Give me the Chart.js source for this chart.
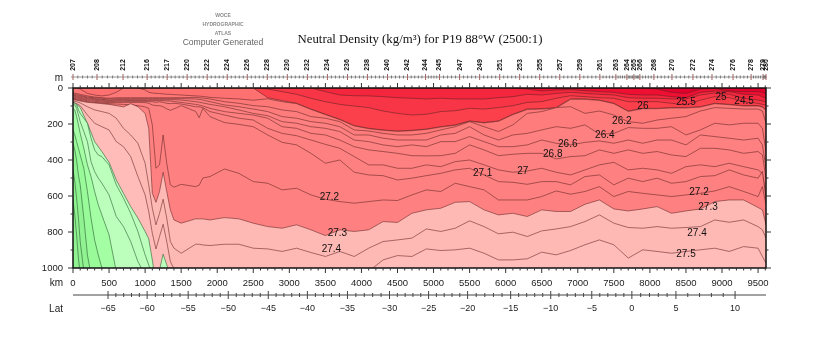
<!DOCTYPE html>
<html>
<head>
<meta charset="utf-8">
<title>Neutral Density P19</title>
<script src="https://cdn.jsdelivr.net/npm/chart.js@4"></script>
<style>
  html, body { margin: 0; padding: 0; background: #fff; }
  canvas { display: block; }
</style>
</head>
<body>
<canvas id="section" width="820" height="350"></canvas>
<script>
// section distance (km) shared by the density surfaces
const kmGrid = [0,50,100,200,300,400,500,600,700,800,900,1000,1050,1100,1150,1200,1250,1300,1350,1400,1500,
  1700,1750,1800,1900,2100,2300,2500,2700,2900,
  3100,3300,3500,3700,3900,4100,4300,4500,4700,4900,5100,5300,5500,5700,5900,6100,6300,
  6500,6700,6900,7100,7300,7500,7700,7900,8100,8300,8500,8700,8900,9100,9300,9500,9560,9610];

// finer grid for the green surfaces at the southern end
const greenKm = [0,25,50,75,100,150,200,250,300,350,400,500,600,700,800,900,1000,1100];

// depth (m) of each neutral density surface
const d245 = [0,0,0,0,0,0,0,0,0,0,0,0,0,0,0,0,0,0,0,0,0, 0,0,0,0,0,0,0,0,0, 0,0,0,0,0,0,0,0,0,0,0,0,0,0,0,0,0, 0,0,0,0,0,0,0,0,6,24,30,6,2,17,20,20,24,35];
const d250 = [0,0,0,0,0,0,0,0,0,0,0,0,0,0,0,0,0,0,0,0,0, 0,0,0,0,0,0,0,0,0, 0,0,0,0,0,0,0,0,0,0,0,0,0,0,0,0,6, 17,11,9,15,20,24,35,39,39,48,54,24,17,20,35,39,48,57];
const d255 = [0,0,0,0,0,0,0,0,0,0,0,0,0,0,0,0,0,0,0,0,0, 0,0,0,0,0,0,0,0,0, 0,0,20,39,43,44,48,54,57,61,57,61,61,61,54,48,35, 39,30,24,30,35,39,54,57,57,61,61,39,28,35,57,67,72,76];
const d258 = [0,0,0,0,0,0,0,0,0,0,0,0,0,0,0,0,0,0,0,0,0, 0,0,0,0,0,0,0,6,20, 35,57,76,91,100,109,128,141,150,146,131,126,113,117,109,98,80, 76,57,43,48,54,57,76,76,76,85,94,67,48,54,76,85,91,94];
const d260 = [0,0,0,0,0,0,0,0,0,0,0,0,0,0,0,0,0,0,0,0,0, 0,0,0,0,0,0,0,54,70, 85,117,146,174,209,224,233,239,235,228,215,205,183,192,183,146,117, 115,109,61,61,67,85,128,113,113,109,109,104,85,91,98,98,104,122];
const d261 = [0,0,6,30,39,44,39,24,0,0,0,11,24,28,30,31,33,35,35,37,39, 44,45,47,52,57,61,68,60,76, 87,119,148,176,211,226,235,241,237,230,217,207,185,194,185,148,119, 117,111,63,63,69,87,130,115,115,111,111,106,87,93,100,100,106,124];
const d262 = [28,31,35,44,50,54,57,54,54,54,54,54,54,54,54,54,54,54,54,54,54, 52,54,56,61,76,85,98,104,122, 131,159,168,187,233,239,252,261,261,252,233,215,187,215,242,205,141, 131,109,104,141,128,150,187,196,178,168,159,128,109,113,117,117,128,196];
const d264 = [33,37,41,50,54,57,61,59,59,59,59,59,59,59,59,59,59,59,59,59,59, 61,63,67,76,94,104,117,131,159, 168,187,196,215,261,261,279,289,289,289,261,252,215,261,289,261,252, 233,215,224,205,257,252,220,224,224,215,261,233,196,205,196,196,224,353];
const d266 = [39,43,46,54,59,63,67,65,65,65,65,65,65,65,65,65,65,65,65,65,67, 76,79,83,91,104,122,141,154,187, 196,215,224,242,289,298,316,326,316,326,298,298,270,298,326,326,316, 289,307,316,302,294,307,289,307,289,289,316,261,270,279,289,279,316,446];
const d268 = [44,48,52,59,63,67,70,68,68,70,70,70,70,70,70,70,70,72,72,76,80, 91,95,100,113,131,141,150,168,215, 224,252,261,289,326,344,353,363,376,377,376,363,316,344,376,368,363, 363,394,381,376,344,363,344,363,353,372,381,335,335,344,363,353,372,501];
const d270 = [50,54,57,65,68,72,76,74,74,74,74,74,76,76,80,76,80,85,87,85,89, 104,105,109,131,150,168,178,224,252, 265,289,313,335,381,427,427,446,446,427,437,409,400,427,455,468,461, 446,468,483,455,427,413,455,446,455,474,437,427,437,418,437,455,474,594];
const d271 = [56,59,63,70,74,78,81,80,80,80,80,81,85,94,98,98,104,116,124,116,98, 130,165,113,159,192,202,215,261,302, 316,363,418,400,468,483,487,511,501,487,474,455,446,483,520,524,535, 520,520,538,492,483,538,501,520,501,529,520,492,487,455,483,501,464,612];
const d272 = [61,65,68,76,80,83,87,89,91,94,98,105,113,205,446,427,261,418,538,551,535, 548,540,500,492,450,474,520,529,566, 557,594,618,631,640,631,622,625,594,566,575,529,548,566,622,622,622, 603,572,590,575,548,603,575,585,594,603,594,585,572,548,575,603,548,649];
const d273 = [65,68,72,80,83,87,91,98,105,87,104,141,224,585,635,575,468,575,677,733,751, 727,727,727,733,720,727,751,770,779, 760,788,820,788,797,788,742,747,696,677,668,635,631,677,705,696,714, 677,686,686,646,622,672,683,672,659,696,683,672,631,622,622,664,677,760];
const d274 = [72,76,83,104,122,131,141,168,224,261,307,418,538,668,760,696,618,723,853,890,918, 868,868,872,875,868,868,890,894,908, 890,914,936,908,936,890,853,844,834,783,797,779,738,770,810,801,825, 794,783,770,742,705,751,775,779,770,779,775,770,733,746,733,770,788,834];
const d275 = [80,87,98,150,196,215,233,298,326,381,492,594,686,807,894,825,757,853,964,1005,1093, 1093,1093,1093,1093,1093,1093,1093,1093,1093, 1093,1093,1093,1093,1093,1019,955,931,936,894,903,899,890,918,955,955,949, 912,927,903,871,844,871,945,899,908,918,908,899,890,908,881,890,936,973];
const d276 = [80,91,109,196,298,353,413,511,585,659,723,797,838,955,1093,1010,923,982,1038,1100,1100];
const d277 = [85,85,94,122,141,168,196,279,344,372,381,427,538,612,696,797,927,1038];
const d2775 = [91,94,113,150,187,242,298,409,464,501,529,594,714,770,853,964,1038,1093];
const d278 = [113,122,159,205,252,335,427,492,575,649,705,816,1019,1093];
const d2785 = [233,261,298,335,372,446,575,723,844,927,999,1093];
const d279 = [307,344,400,483,538,723,927,1038];
const d2792 = [455,520,612,723,853,1019];
const d2795 = [622,705,816,945,1038];

// contour labels on the section
const labelText = ["27.2","27.3","27.4","27.1","27","26.8","26.6","26.4","26.2","26","25.5","25","24.5","27.2","27.3","27.4","27.5"];
const labelKm = [3556,3667,3583,5681,6236,6653,6861,7375,7611,7903,8500,8986,9306,8681,8806,8653,8500];
const labelDepth = [605,805,895,472,461,367,311,261,183,100,78,50,72,578,661,806,922];

// station row along the top
const stationKm = [0,333,694,1028,1306,1583,1861,2139,2417,2694,2972,3250,3528,3806,4083,4361,4639,4889,5083,5361,5639,5917,6194,6472,6750,7028,7306,7528,7681,7778,7861,8056,8306,8597,8861,9153,9403,9569,9610];
const stationNames = ["207","208","212","216","217","220","222","224","226","228","230","232","234","236","238","240","242","244","245","247","249","251","253","255","257","259","261","263","264","265","266","268","270","272","274","276","278","279","280"];

// latitude row along the bottom
const latValues = [-65,-60,-55,-50,-45,-40,-35,-30,-25,-20,-15,-10,-5,0,5,10];
const latKm = [486,1028,1597,2153,2708,3250,3806,4389,4931,5472,6069,6625,7194,7750,8361,9181];

const kmTicks = [0,500,1000,1500,2000,2500,3000,3500,4000,4500,5000,5500,6000,6500,7000,7500,8000,8500,9000,9500];
const depthTicks = [0,200,400,600,800,1000];

const sans = '"Liberation Sans", Arial, sans-serif';

// lightest surface first, each one painted over the last
const surfaces = [
  [d245, kmGrid, "#ee0f33"], [d250, kmGrid, "#f3263d"], [d255, kmGrid, "#f83546"], [d258, kmGrid, "#fb3f4b"],
  [d260, kmGrid, "#ff7070"], [d261, kmGrid, "#ff7878"], [d262, kmGrid, "#ff7c7c"], [d264, kmGrid, "#ff8080"],
  [d266, kmGrid, "#ff8080"], [d268, kmGrid, "#ff8080"], [d270, kmGrid, "#ff8080"], [d271, kmGrid, "#ff8080"],
  [d272, kmGrid, "#ff8080"], [d273, kmGrid, "#ffb9b5"], [d274, kmGrid, "#ffb9b5"], [d275, kmGrid, "#ffbcb8"],
  [d276, kmGrid, "#bcffbc"], [d277, greenKm, "#bcffbc"], [d2775, greenKm, "#bcffbc"], [d278, greenKm, "#a4ffa4"],
  [d2785, greenKm, "#98fa98"], [d279, greenKm, "#90f290"], [d2792, greenKm, "#90f290"], [d2795, greenKm, "#90f290"]
];

// chart.js paints dataset 0 last, so densest goes first
const datasets = surfaces.slice().reverse().map(s => {
  const green = s[1] === greenKm || s[0] === d276;
  return {
    data: s[0].map((d, i) => ({ x: s[1][i], y: d })),
    showLine: true,
    pointRadius: 0,
    borderWidth: 0.7,
    borderColor: green ? "rgba(40,95,50,0.85)" : "rgba(95,35,35,0.8)",
    backgroundColor: s[2],
    fill: { value: 1000 }
  };
});

function tickLine(ctx, x1, y1, x2, y2) {
  ctx.beginPath();
  ctx.moveTo(x1, y1);
  ctx.lineTo(x2, y2);
  ctx.stroke();
}

// background under the surfaces
const sectionBack = {
  id: "sectionBack",
  beforeDatasetsDraw(chart) {
    const a = chart.chartArea;
    chart.ctx.fillStyle = "#e3002d";
    chart.ctx.fillRect(a.left, a.top, a.width, a.height);
  }
};

// frame, tick rows, contour labels and the header
const decorations = {
  id: "decorations",
  afterDatasetsDraw(chart) {
    const ctx = chart.ctx, a = chart.chartArea, x = chart.scales.x, y = chart.scales.y;
    ctx.save();

    // contour labels
    ctx.fillStyle = "#111";
    ctx.font = "10px " + sans;
    ctx.textAlign = "center";
    ctx.textBaseline = "middle";
    labelText.forEach((t, i) => ctx.fillText(t, x.getPixelForValue(labelKm[i]), y.getPixelForValue(labelDepth[i])));

    // frame
    ctx.strokeStyle = "#111";
    ctx.lineWidth = 1.5;
    ctx.strokeRect(a.left, a.top, a.width, a.height);

    // km ticks, top and bottom
    ctx.lineWidth = 1;
    ctx.strokeStyle = "#333";
    for (let km = 0; km <= 9600; km += 100) {
      const px = x.getPixelForValue(km), len = km % 500 === 0 ? 5 : 2.5;
      tickLine(ctx, px, a.top, px, a.top - len);
      tickLine(ctx, px, a.bottom, px, a.bottom + len);
    }

    // depth ticks, left and right
    for (let d = 0; d <= 1000; d += 100) {
      const py = y.getPixelForValue(d), len = d % 200 === 0 ? 5 : 2.5;
      tickLine(ctx, a.left, py, a.left - len, py);
      tickLine(ctx, a.right, py, a.right + len, py);
    }

    // station row
    const stationY = 77;
    ctx.strokeStyle = "#999";
    tickLine(ctx, a.left - 2, stationY, a.right + 1, stationY);
    stationKm.forEach((km, i) => {
      const px = x.getPixelForValue(km);
      ctx.strokeStyle = "#a06060";
      tickLine(ctx, px, stationY - 3, px, stationY + 3);
      if (i < stationKm.length - 1) {
        ctx.strokeStyle = "#777";
        const gap = (x.getPixelForValue(stationKm[i + 1]) - px) / 5;
        for (let k = 1; k < 5; k++) tickLine(ctx, px + gap * k, stationY - 1.5, px + gap * k, stationY + 1.5);
      }
      ctx.save();
      ctx.translate(px, 65);
      ctx.rotate(-Math.PI / 2);
      ctx.fillStyle = "#111";
      ctx.font = "bold 7px " + sans;
      ctx.textAlign = "center";
      ctx.textBaseline = "middle";
      ctx.fillText(stationNames[i], 0, 0);
      ctx.restore();
    });

    // latitude row
    const latY = 295;
    ctx.strokeStyle = "#444";
    tickLine(ctx, a.left, latY, a.right, latY);
    ctx.fillStyle = "#222";
    ctx.font = "9px " + sans;
    ctx.textAlign = "center";
    ctx.textBaseline = "middle";
    latValues.forEach((lat, i) => {
      const px = x.getPixelForValue(latKm[i]);
      tickLine(ctx, px, latY - 4, px, latY + 4);
      ctx.fillText(String(lat).replace("-", "\u2212"), px, 309);
      if (i < latValues.length - 1) {
        const gap = (x.getPixelForValue(latKm[i + 1]) - px) / 5;
        for (let k = 1; k < 5; k++) tickLine(ctx, px + gap * k, latY - 2, px + gap * k, latY + 2);
      }
    });

    // row names
    ctx.fillStyle = "#222";
    ctx.font = "10px " + sans;
    ctx.textAlign = "right";
    ctx.fillText("m", 63, 78);
    ctx.fillText("km", 63, 283);
    ctx.fillText("Lat", 63, 309);

    // header
    ctx.textAlign = "center";
    ctx.fillStyle = "#111";
    ctx.font = '12.8px "Liberation Serif", serif';
    ctx.fillText("Neutral Density (kg/m\u00b3) for P19 88\u00b0W (2500:1)", 420, 40);
    ctx.fillStyle = "#8a8a8a";
    ctx.font = "bold 5px " + sans;
    ctx.fillText("WOCE", 223, 16);
    ctx.fillText("HYDROGRAPHIC", 223, 25);
    ctx.fillText("ATLAS", 223, 34);
    ctx.fillStyle = "#666";
    ctx.font = "8.6px " + sans;
    ctx.fillText("Computer Generated", 223, 43);

    ctx.restore();
  }
};

new Chart(document.getElementById("section"), {
  type: "scatter",
  data: { datasets },
  plugins: [sectionBack, decorations],
  options: {
    responsive: false,
    animation: false,
    events: [],
    layout: { padding: { left: 0, top: 88, right: 54, bottom: 0 } },
    plugins: { legend: { display: false }, tooltip: { enabled: false } },
    scales: {
      x: {
        type: "linear",
        min: 0,
        max: 9610,
        afterFit: s => { s.height = 82; },
        afterBuildTicks: s => { s.ticks = kmTicks.map(v => ({ value: v })); },
        grid: { display: false, drawTicks: false },
        border: { display: false },
        ticks: { autoSkip: false, maxRotation: 0, padding: 10, color: "#222", font: { size: 9.5, family: sans }, callback: v => String(v) }
      },
      y: {
        type: "linear",
        reverse: true,
        min: 0,
        max: 1000,
        afterFit: s => { s.width = 73; },
        afterBuildTicks: s => { s.ticks = depthTicks.map(v => ({ value: v })); },
        grid: { display: false, drawTicks: false },
        border: { display: false },
        ticks: { padding: 10, color: "#222", font: { size: 9.5, family: sans }, callback: v => String(v) }
      }
    }
  }
});
</script>
</body>
</html>
